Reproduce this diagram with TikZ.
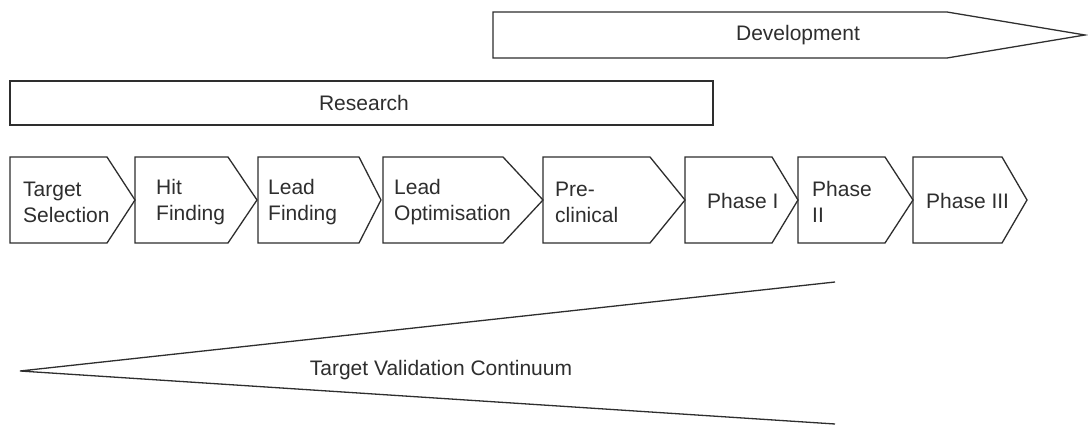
\documentclass[tikz,border=0pt]{standalone}
\usepackage{fontspec}
\setmainfont{Liberation Sans}
\definecolor{ink}{HTML}{2E2E2E}
\begin{document}
\begin{tikzpicture}[x=1pt,y=-1pt,
  outline/.style={draw=ink,line width=1.3pt,line join=miter},
  lbl/.style={inner sep=0pt,text=ink,font=\fontsize{21}{26}\selectfont,align=left},
  clbl/.style={inner sep=0pt,text=ink,font=\fontsize{21}{26}\selectfont,align=center}]
\useasboundingbox[fill=white] (0,0) rectangle (1088,427);
% Development arrow
\draw[outline] (493,12) -- (947,12) -- (1085,35) -- (947,58) -- (493,58) -- cycle;
\node[clbl] (dev) at (798,35) {Development};
% Research bar
\draw[outline] (10,81) rectangle (713,125);
\node[clbl] (res) at (364,103) {Research};
% Chevrons
\def\ty{157}\def\by{243}\def\my{200}
\draw[outline] (10,\ty) -- (107,\ty) -- (135,\my) -- (107,\by) -- (10,\by) -- cycle;
\draw[outline] (135,\ty) -- (228,\ty) -- (257,\my) -- (228,\by) -- (135,\by) -- cycle;
\draw[outline] (258,\ty) -- (359,\ty) -- (381,\my) -- (359,\by) -- (258,\by) -- cycle;
\draw[outline] (383,\ty) -- (503,\ty) -- (543,\my) -- (503,\by) -- (383,\by) -- cycle;
\draw[outline] (543,\ty) -- (650,\ty) -- (685,\my) -- (650,\by) -- (543,\by) -- cycle;
\draw[outline] (685,\ty) -- (772,\ty) -- (798,\my) -- (772,\by) -- (685,\by) -- cycle;
\draw[outline] (798,\ty) -- (885,\ty) -- (913,\my) -- (885,\by) -- (798,\by) -- cycle;
\draw[outline] (913,\ty) -- (1002,\ty) -- (1027,\my) -- (1002,\by) -- (913,\by) -- cycle;
\node[lbl,anchor=west] (s1) at (23,202) {Target\\Selection};
\node[lbl,anchor=west] (s2) at (156,202) {Hit\\Finding};
\node[lbl,anchor=west] (s3) at (268,202) {Lead\\Finding};
\node[lbl,anchor=west] (s4) at (394,202) {Lead\\Optimisation};
\node[lbl,anchor=west] (s5) at (555,202) {Pre-\\clinical};
\node[lbl,anchor=west] (s6) at (707,201) {Phase I};
\node[lbl,anchor=west] (s7) at (812,202) {Phase\\II};
\node[lbl,anchor=west] (s8) at (926,201) {Phase III};
% Target validation wedge
\coordinate (tip) at (20,371);
\coordinate (tr) at (835,282);
\coordinate (br) at (835,424);
\draw[outline] (tr) -- (tip) -- (br);
\node[clbl] (tvc) at (441,370) {Target Validation Continuum};
\end{tikzpicture}
\end{document}
